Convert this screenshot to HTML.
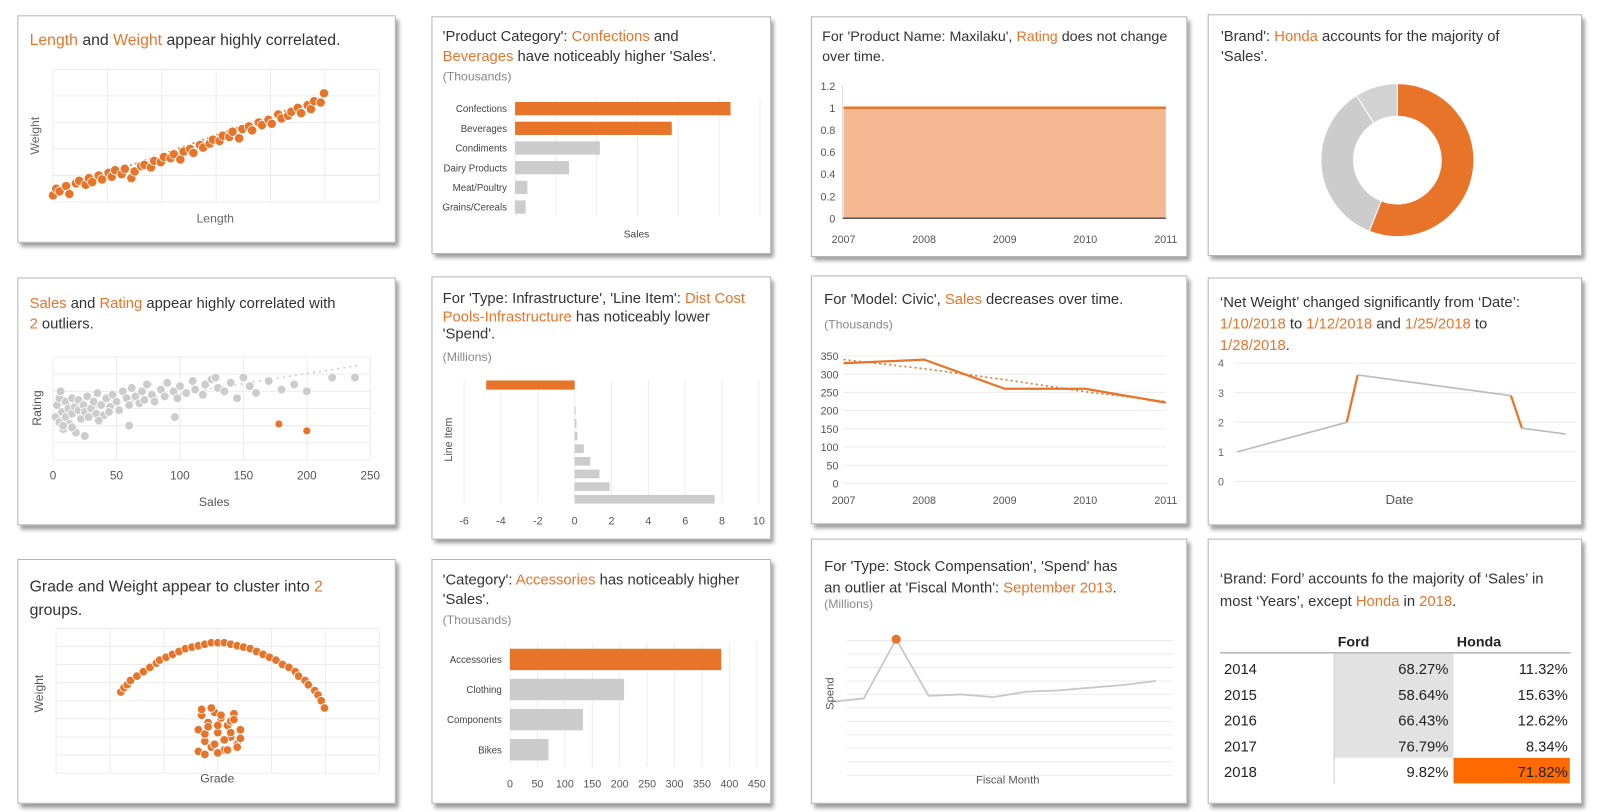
<!DOCTYPE html>
<html><head><meta charset="utf-8">
<style>
html,body{margin:0;padding:0;background:#fff;width:1600px;height:812px;overflow:hidden}
#root{position:absolute;left:0;top:0;width:1570px;height:796px;transform:scale(1.02);transform-origin:0 0;font-family:"Liberation Sans",sans-serif;color:#333}
.card{position:absolute;background:#fff;border:1px solid #b5b5b5;box-shadow:3px 4px 4px #9a9a9a}
.t{position:absolute;font-size:14.5px;line-height:20px;color:#333;white-space:nowrap}
.o{color:#e8742a}
.u{position:absolute;font-size:12px;color:#888}
#svg{position:absolute;left:0;top:0}
.cal{font-family:"Liberation Sans Narrow","Liberation Sans",sans-serif}
</style></head><body>
<div id="root">
<div class="card" style="left:17px;top:15px;width:369px;height:221px"></div>
<div class="card" style="left:423px;top:16px;width:331px;height:231px"></div>
<div class="card" style="left:795px;top:16px;width:367px;height:234px"></div>
<div class="card" style="left:1184px;top:14px;width:365px;height:235px"></div>
<div class="card" style="left:17px;top:272px;width:369px;height:241px"></div>
<div class="card" style="left:423px;top:271px;width:331px;height:256px"></div>
<div class="card" style="left:795px;top:270px;width:367px;height:242px"></div>
<div class="card" style="left:1184px;top:272px;width:365px;height:241px"></div>
<div class="card" style="left:17px;top:548px;width:369px;height:238px"></div>
<div class="card" style="left:423px;top:548px;width:331px;height:238px"></div>
<div class="card" style="left:795px;top:528px;width:367px;height:258px"></div>
<div class="card" style="left:1184px;top:528px;width:365px;height:258px"></div>

<div class="t" style="left:29px;top:30px;font-size:15.5px"><span class="o">Length</span> and <span class="o">Weight</span> appear highly correlated.</div>
<div class="t" style="left:434px;top:26px">'Product Category': <span class="o">Confections</span> and<br><span class="o">Beverages</span> have noticeably higher 'Sales'.</div>
<div class="u" style="left:434px;top:68px">(Thousands)</div>
<div class="t cal" style="left:806px;top:25px;font-size:14px">For 'Product Name: Maxilaku', <span class="o">Rating</span> does not change<br>over time.</div>
<div class="t" style="left:1197px;top:26px">'Brand': <span class="o">Honda</span> accounts for the majority of<br>'Sales'.</div>
<div class="t" style="left:29px;top:288px"><span class="o">Sales</span> and <span class="o">Rating</span> appear highly correlated with<br><span class="o">2</span> outliers.</div>
<div class="t" style="left:434px;top:285px;line-height:17.5px">For 'Type: Infrastructure', 'Line Item': <span class="o">Dist Cost</span><br><span class="o">Pools-Infrastructure</span> has noticeably lower<br>'Spend'.</div>
<div class="u" style="left:434px;top:343px">(Millions)</div>
<div class="t" style="left:808px;top:284px">For 'Model: Civic', <span class="o">Sales</span> decreases over time.</div>
<div class="u" style="left:808px;top:311px">(Thousands)</div>
<div class="t" style="left:1196px;top:287px;line-height:21px">‘Net Weight’ changed significantly from ‘Date’:<br><span class="o">1/10/2018</span> to <span class="o">1/12/2018</span> and <span class="o">1/25/2018</span> to<br><span class="o">1/28/2018</span>.</div>
<div class="t cal" style="left:29px;top:564px;font-size:15.5px;line-height:23px">Grade and Weight appear to cluster into <span class="o">2</span><br>groups.</div>
<div class="t cal" style="left:434px;top:560px;line-height:19px">'Category': <span class="o">Accessories</span> has noticeably higher<br>'Sales'.</div>
<div class="u" style="left:434px;top:601px">(Thousands)</div>
<div class="t cal" style="left:808px;top:546px;line-height:21px">For 'Type: Stock Compensation', 'Spend' has<br>an outlier at 'Fiscal Month': <span class="o">September 2013</span>.</div>
<div class="u" style="left:808px;top:585px">(Millions)</div>
<div class="t cal" style="left:1196px;top:557px;line-height:22px">‘Brand: Ford’ accounts fo the majority of ‘Sales’ in<br>most ‘Years’, except <span class="o">Honda</span> in <span class="o">2018</span>.</div>

<svg id="svg" width="1570" height="796" xmlns="http://www.w3.org/2000/svg" font-family="Liberation Sans, sans-serif"></svg>
</div>
<script>
// ---- data ----
const c1Length=[0,1,2,4,5,7,8,10,11,12,14,15,17,18,19,21,22,24,25,27,28,30,31,33,34,36,37,39,40,42,43,45,46,48,49,51,52,54,55,57,58,60,61,63,64,66,67,69,70,72,73,75,76,78,79,80,82,83];
const c1Weight=[5,10,8,12,6,14,16,13,18,15,20,17,22,19,24,21,25,18,23,27,28,26,31,30,34,33,36,32,38,40,37,43,41,44,47,46,50,49,53,48,55,57,54,60,58,62,59,66,63,65,68,71,67,73,70,76,75,82];
const c2Cats=["Confections","Beverages","Condiments","Dairy Products","Meat/Poultry","Grains/Cereals"];
const c2Sales=[264,192,104,66,15,13];
const c3Years=["2007","2008","2009","2010","2011"];
const c3Rating=[1,1,1,1,1];
const c3Ticks=[0,0.2,0.4,0.6,0.8,1,1.2];
const c4Brands=["Honda","Other","Other2"];
const c4Share=[56,35,9];
const c5Sales=[2,3,5,5,7,8,10,10,12,13,15,15,17,18,20,20,22,24,25,27,28,30,32,34,35,38,40,42,45,47,50,52,55,58,60,62,65,68,70,72,75,78,80,85,88,90,95,98,100,105,110,112,118,120,125,130,135,140,145,150,155,160,170,180,190,200,220,238,25,15,8,6,36,44,60,74,96,128];
const c5Rating=[2.5,3.2,2.2,3.6,2.8,1.8,3.4,2.5,3.0,2.1,3.6,2.7,3.1,1.6,2.9,3.5,2.4,3.2,2.8,3.7,2.5,3.0,3.4,2.7,3.9,3.2,2.6,3.6,3.1,3.8,3.4,2.9,4.0,3.6,3.2,4.2,3.7,3.3,4.0,3.5,4.4,3.8,3.4,4.1,3.7,4.5,4.0,3.6,4.3,3.9,4.6,4.1,3.8,4.4,4.7,4.2,4.0,4.5,3.6,4.8,4.3,3.9,4.6,4.1,4.4,4.0,4.8,4.8,1.4,1.9,2.0,4.0,2.3,2.8,2.0,4.4,2.5,4.8];
const c5OutSales=[178,200];
const c5OutRating=[2.1,1.7];
const c5XTicks=[0,50,100,150,200,250];
const c6Values=[-4.8,0.05,0.1,0.15,0.5,0.85,1.35,1.9,7.6];
const c6Ticks=[-6,-4,-2,0,2,4,6,8,10];
const c7Years=["2007","2008","2009","2010","2011"];
const c7Sales=[330,340,260,260,222];
const c7Trend=[340,315,285,252,225];
const c7Ticks=[0,50,100,150,200,250,300,350];
const c8Days=[0,10,11,25,26,30];
const c8Weight=[1,2,3.6,2.9,1.8,1.6];
const c8Ticks=[0,1,2,3,4];
const c9ArcGrade=[20,21,22,23,25,27,29,31,32,34,36,38,40,42,44,46,48,50,52,54,56,58,60,62,64,66,68,70,72,74,75,77,78,80,81,82,83];
const c9ArcWeight=[56,59,61,64,67,70,73,76,78,80,82,84,86,87,88,89,90,90,90,89,88,87,86,84,82,80,78,75,73,70,67,64,61,57,54,50,45];
const c9CluGrade=[44,45,46,47,48,49,50,51,52,53,54,55,56,57,44,46,48,50,52,54,56,45,47,49,51,53,55,57,46,50,54];
const c9CluWeight=[15,40,22,35,18,42,28,38,16,33,25,41,20,30,30,27,45,14,23,36,18,44,32,20,40,16,37,24,13,33,28];
const c10Cats=["Accessories","Clothing","Components","Bikes"];
const c10Sales=[385,208,133,70];
const c10Ticks=[0,50,100,150,200,250,300,350,400,450];
const c11Months=[0,1,2,3,4,5,6,7,8,9,10];
const c11Spend=[5.45,5.7,10.1,5.9,6.0,5.8,6.2,6.3,6.5,6.7,7.0];
const c12Years=["2014","2015","2016","2017","2018"];
const c12Ford=["68.27%","58.64%","66.43%","76.79%","9.82%"];
const c12Honda=["11.32%","15.63%","12.62%","8.34%","71.82%"];

const OR="#e8742a", GR="#cccccc", GRID="#ececec", TX="#666";
const svg=document.getElementById('svg');
const NS="http://www.w3.org/2000/svg";
function el(tag,attrs,parent){const e=document.createElementNS(NS,tag);for(const k in attrs)e.setAttribute(k,attrs[k]);(parent||svg).appendChild(e);return e;}
function txt(x,y,s,size,fill,anchor,rot){const e=el('text',{x:x,y:y,'font-size':size,fill:fill,'text-anchor':anchor||'middle'});if(rot)e.setAttribute('transform','rotate(-90 '+x+' '+y+')');e.textContent=s;return e;}
function lin(d0,d1,r0,r1){return v=>r0+(v-d0)*(r1-r0)/(d1-d0);}
let e;

// ---- card 1 ----
{const x=lin(0,100,52,372), y=lin(0,100,198,68);
for(let i=0;i<=6;i++){e=el('line',{x1:52+i*53.3,x2:52+i*53.3,y1:68,y2:198,stroke:GRID});}
for(let i=0;i<=5;i++){e=el('line',{x1:52,x2:372,y1:68+i*26,y2:68+i*26,stroke:GRID});}
e=el('line',{x1:x(0),y1:y(7),x2:x(84),y2:y(80),stroke:OR,'stroke-dasharray':'2 3','stroke-width':1.5});
c1Length.forEach((l,i)=>{e=el('circle',{cx:x(l),cy:y(c1Weight[i]),r:4.6,fill:OR,stroke:'#fff','stroke-width':0.8});});
e=txt(211,218,'Length',12,TX);
e=txt(38,133,'Weight',12,TX,'middle',true);}

// ---- card 2 ----
{const x=lin(0,300,505,745);
for(let i=0;i<=6;i++){e=el('line',{x1:505+i*40,x2:505+i*40,y1:96,y2:212,stroke:GRID});}
c2Cats.forEach((c,i)=>{const yy=100+i*19.3;
e=el('rect',{x:505,y:yy,width:x(c2Sales[i])-505,height:13,fill:i<2?OR:GR});
e=txt(497,yy+10,c,9.5,'#444','end');});
e=txt(624,233,'Sales',10,'#444');}

// ---- card 3 ----
{const x=lin(0,4,827,1143), y=lin(0,1.2,214,84);
c3Ticks.forEach(t=>{e=txt(819,y(t)+4,String(t),10.5,'#555','end');});
let d='M'+x(0)+' '+y(0);c3Rating.forEach((v,i)=>d+=' L'+x(i)+' '+y(v));d+=' L'+x(4)+' '+y(0)+'Z';
e=el('path',{d:d,fill:'#f4b992'});
e=el('polyline',{points:c3Rating.map((v,i)=>x(i)+','+y(v)).join(' '),fill:'none',stroke:OR,'stroke-width':2.5});
e=el('line',{x1:826,x2:1143,y1:214,y2:214,stroke:'#555','stroke-width':1.5});
e=el('line',{x1:826,x2:826,y1:84,y2:214,stroke:'#ddd'});
c3Years.forEach((yv,i)=>{e=txt(x(i),238,yv,10.5,'#555');});}

// ---- card 4 donut ----
{const cx=1370,cy=157,R=75,r=43;const tot=c4Share.reduce((a,b)=>a+b,0);let a0=0;const cols=[OR,GR,'#d2d2d2'];
c4Share.forEach((s,i)=>{const a1=a0+s/tot*2*Math.PI;const p=(rad,a)=>[cx+rad*Math.sin(a),cy-rad*Math.cos(a)];const lg=(a1-a0)>Math.PI?1:0;
const [x0,y0]=p(R,a0),[x1,y1]=p(R,a1),[x2,y2]=p(r,a1),[x3,y3]=p(r,a0);
e=el('path',{d:`M${x0} ${y0} A${R} ${R} 0 ${lg} 1 ${x1} ${y1} L${x2} ${y2} A${r} ${r} 0 ${lg} 0 ${x3} ${y3}Z`,fill:cols[i],stroke:'#fff','stroke-width':1});a0=a1;});}

// ---- card 5 ----
{const x=lin(0,250,52,363), y=lin(0,6,451,350);
for(let i=0;i<=6;i++){e=el('line',{x1:52,x2:363,y1:y(i),y2:y(i),stroke:GRID});}
c5XTicks.forEach(t=>{e=el('line',{x1:x(t),x2:x(t),y1:350,y2:451,stroke:GRID});
e=txt(x(t),470,String(t),11.5,'#555');});
e=el('line',{x1:x(0),y1:y(2.7),x2:x(240),y2:y(5.5),stroke:'#ccc','stroke-dasharray':'2 4','stroke-width':1.5});
c5Sales.forEach((s,i)=>{e=el('circle',{cx:x(s),cy:y(c5Rating[i]),r:4.3,fill:GR,stroke:'#fff','stroke-width':0.8});});
c5OutSales.forEach((s,i)=>{e=el('circle',{cx:x(s),cy:y(c5OutRating[i]),r:3.5,fill:OR});});
e=txt(210,496,'Sales',12,'#555');
e=txt(40,400,'Rating',12,'#555','middle',true);}

// ---- card 6 ----
{const x=lin(-6,10,455,744);
c6Ticks.forEach(t=>{e=el('line',{x1:x(t),x2:x(t),y1:373,y2:493,stroke:GRID});
e=txt(x(t),514,String(t),10.5,'#555');});
c6Values.forEach((v,i)=>{const yy=i===0?373:386+i*12.4;const x0=Math.min(x(0),x(v)),w=Math.abs(x(v)-x(0));
e=el('rect',{x:x0,y:yy,width:Math.max(w,1),height:i===0?9:8.5,fill:i===0?OR:GR});});
e=txt(443,431,'Line Item',10.5,'#555','middle',true);}

// ---- card 7 ----
{const x=lin(0,4,827,1143), y=lin(0,350,474,349);
c7Ticks.forEach(t=>{e=el('line',{x1:827,x2:1143,y1:y(t),y2:y(t),stroke:GRID});
e=txt(822,y(t)+4,String(t),10.5,'#555','end');});
e=el('polyline',{points:c7Trend.map((v,i)=>x(i)+','+y(v)).join(' '),fill:'none',stroke:OR,'stroke-width':1.6,'stroke-dasharray':'2 3'});
e=el('polyline',{points:c7Sales.map((v,i)=>x(i)+','+y(v)).join(' '),fill:'none',stroke:OR,'stroke-width':2.2});
c7Years.forEach((yv,i)=>{e=txt(x(i),494,yv,10.5,'#555');});}

// ---- card 8 ----
{const x=lin(0,30,1213,1535), y=lin(0,4,472,356);
c8Ticks.forEach(t=>{e=el('line',{x1:1210,x2:1545,y1:y(t),y2:y(t),stroke:GRID});
e=txt(1200,y(t)+4,String(t),10.5,'#666','end');});
for(let i=0;i<c8Days.length-1;i++){const hi=(i===1||i===3);
e=el('line',{x1:x(c8Days[i]),y1:y(c8Weight[i]),x2:x(c8Days[i+1]),y2:y(c8Weight[i+1]),stroke:hi?OR:'#bbb','stroke-width':hi?2.2:1.6});}
e=txt(1372,494,'Date',13,'#555');}

// ---- card 9 ----
{const x=lin(0,100,55,372), y=lin(0,100,758,616);
for(let i=0;i<=6;i++){e=el('line',{x1:55+i*52.8,x2:55+i*52.8,y1:616,y2:758,stroke:GRID});}
for(let i=0;i<=8;i++){e=el('line',{x1:55,x2:372,y1:616+i*17.75,y2:616+i*17.75,stroke:GRID});}
c9ArcGrade.forEach((g,i)=>{e=el('circle',{cx:x(g),cy:y(c9ArcWeight[i]),r:4.2,fill:OR,stroke:'#fff','stroke-width':0.8});});
c9CluGrade.forEach((g,i)=>{e=el('circle',{cx:x(g),cy:y(c9CluWeight[i]),r:4.2,fill:OR,stroke:'#fff','stroke-width':0.8});});
e=txt(213,767,'Grade',12,'#555');
e=txt(42,680,'Weight',12,'#555','middle',true);}

// ---- card 10 ----
{const x=lin(0,450,500,742);
c10Ticks.forEach(t=>{e=el('line',{x1:x(t),x2:x(t),y1:630,y2:752,stroke:GRID});
e=txt(x(t),772,String(t),10.5,'#555');});
c10Cats.forEach((c,i)=>{const yy=636+i*29.5;
e=el('rect',{x:500,y:yy,width:x(c10Sales[i])-500,height:21,fill:i===0?OR:GR});
e=txt(492,yy+14,c,9.5,'#444','end');});}

// ---- card 11 ----
{const x=lin(0,10,815,1133), y=lin(0,10,760,628);
for(let i=0;i<=10;i++){e=el('line',{x1:830,x2:1150,y1:y(i),y2:y(i),stroke:GRID});}
e=el('polyline',{points:c11Months.map((m,i)=>x(m)+','+y(c11Spend[i])).join(' '),fill:'none',stroke:'#c8c8c8','stroke-width':1.8});
e=el('circle',{cx:x(2),cy:y(c11Spend[2]),r:4.5,fill:OR});
e=txt(817,680,'Spend',11,'#555','middle',true);
e=txt(988,768,'Fiscal Month',11,'#555');}

// ---- card 12 table ----
{e=el('rect',{x:1308,y:640,width:117,height:103,fill:'#e2e2e2'});
e=el('rect',{x:1425,y:743,width:114,height:25,fill:'#ff6a00'});
e=el('line',{x1:1196,x2:1540,y1:640,y2:640,stroke:'#bbb','stroke-width':1.5});
e=el('line',{x1:1308,x2:1308,y1:640,y2:768,stroke:'#ccc'});
e=txt(1327,634,'Ford',14,'#222');e.setAttribute('font-weight','bold');
e=txt(1450,634,'Honda',14,'#222');e.setAttribute('font-weight','bold');
c12Years.forEach((yr,i)=>{const yy=661+i*25.2;
e=txt(1200,yy,yr,14.5,'#222','start');
e=txt(1420,yy,c12Ford[i],14.5,'#222','end');
e=txt(1537,yy,c12Honda[i],14.5,'#222','end');});}
</script>
</body></html>
